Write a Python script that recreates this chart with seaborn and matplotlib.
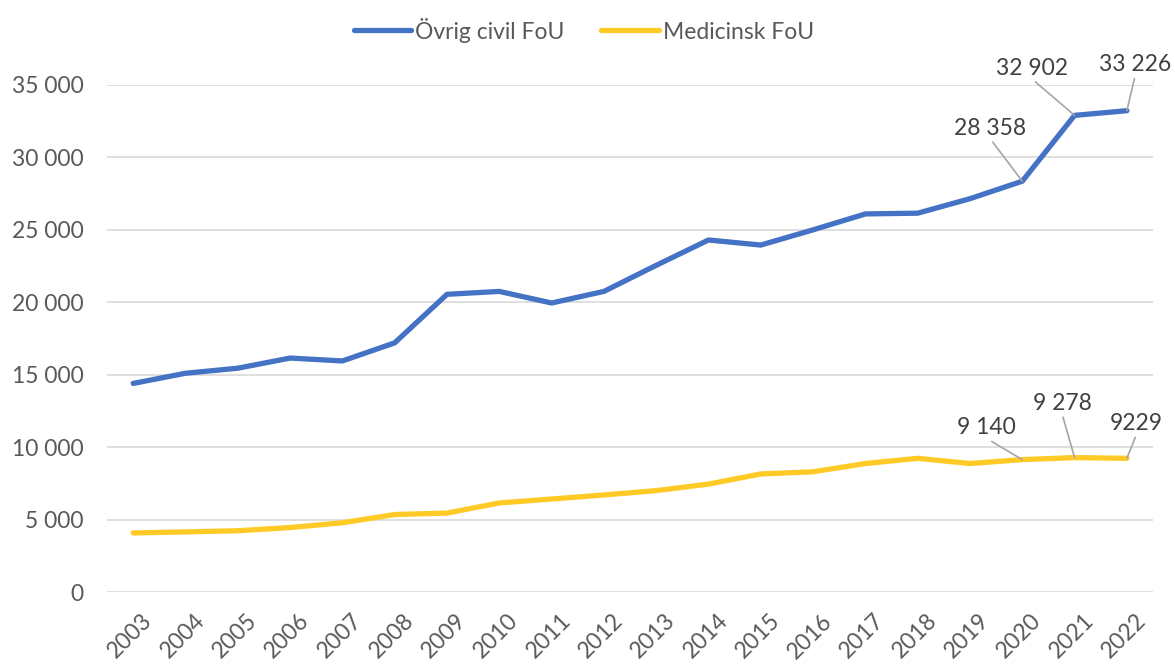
import numpy as np
import pandas as pd
import matplotlib.pyplot as plt
import matplotlib.transforms as mtransforms
import seaborn as sns
from matplotlib.ticker import FuncFormatter

years = list(range(2003, 2023))
ovrig = [14400, 15100, 15450, 16150, 15950, 17200, 20550, 20750, 19950, 20750,
         22550, 24300, 23950, 25000, 26100, 26150, 27150, 28358, 32902, 33226]
medicinsk = [4080, 4150, 4230, 4450, 4780, 5350, 5450, 6150, 6420, 6700,
             7000, 7450, 8150, 8300, 8870, 9230, 8870, 9140, 9278, 9229]
series = ['Övrig civil FoU', 'Medicinsk FoU']

# etiketter: (serie, år, text, förskjutning i punkter)
labels = [
    (0, 2020, '28 358', (-23, 38)),
    (0, 2021, '32 902', (-31, 34)),
    (0, 2022, '33 226', (6, 33)),
    (1, 2020, '9 140', (-26, 23)),
    (1, 2021, '9 278', (-9, 39)),
    (1, 2022, '9229', (7, 25)),
]

df = pd.DataFrame({
    'År': years * 2,
    'Värde': ovrig + medicinsk,
    'Serie': [series[0]] * len(years) + [series[1]] * len(years),
})

sns.set_style('white')
plt.rcParams['font.family'] = ['Lato', 'DejaVu Sans']
colors = ['#4472C4', '#FFC926']
text_col = '#404040'

fig = plt.figure(figsize=(11.75, 6.67), dpi=100)
ax = fig.add_axes([0.0911, 0.1124, 0.8902, 0.7602])

sns.lineplot(data=df, x='År', y='Värde', hue='Serie', palette=colors,
             linewidth=3.8, solid_capstyle='round', ax=ax)

ax.set_xlim(2002.5, 2022.5)
ax.set_ylim(0, 35000)
ax.set_yticks(range(0, 35001, 5000))
ax.yaxis.set_major_formatter(FuncFormatter(lambda v, p: f'{v:,.0f}'.replace(',', ' ')))
ax.set_xticks(years)
ax.set_xticklabels([str(y) for y in years], rotation=45, ha='right', va='top',
                   rotation_mode='anchor', fontsize=16.5)
ax.set_xlabel('')
ax.set_ylabel('')
ax.grid(axis='y', color='#D9D9D9', linewidth=1.2)
ax.set_axisbelow(True)
for s in ax.spines.values():
    s.set_visible(False)
ax.tick_params(axis='y', length=0, labelsize=16.5, labelcolor='#595959', pad=17)
ax.tick_params(axis='x', length=0, labelcolor='#595959', pad=13)
shift = mtransforms.ScaledTranslation(6 / 72, 0, fig.dpi_scale_trans)
for lab in ax.get_xticklabels():
    lab.set_transform(lab.get_transform() + shift)

vals = {0: ovrig, 1: medicinsk}
for si, yr, txt, off in labels:
    y = vals[si][years.index(yr)]
    ax.annotate(txt, xy=(yr, y), xytext=off, textcoords='offset points',
                ha='center', va='center', fontsize=16.5, color=text_col,
                arrowprops=dict(arrowstyle='-', color='#A5A5A5', lw=1.2,
                                relpos=(0.5, 0), shrinkA=0, shrinkB=0))

handles, lbls = ax.get_legend_handles_labels()
ax.legend_.remove()
fig.legend(handles, lbls, loc='center', bbox_to_anchor=(0.497, 0.955), ncol=2,
           frameon=False, fontsize=16.5, labelcolor='#595959', handlelength=2.5,
           handletextpad=0.2, columnspacing=1.6)

fig.savefig('out.png', dpi=100)
